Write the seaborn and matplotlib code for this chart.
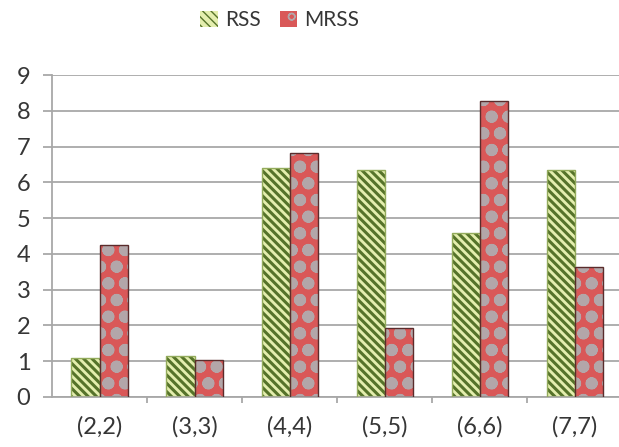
import matplotlib
matplotlib.use("Agg")
import matplotlib.pyplot as plt
import pandas as pd
import seaborn as sns
from matplotlib.patches import Patch, Rectangle
from matplotlib.ticker import FixedLocator

# Estimator values per (m, k) setting
pairs = ["(2,2)", "(3,3)", "(4,4)", "(5,5)", "(6,6)", "(7,7)"]
rss = [1.10, 1.15, 6.40, 6.35, 4.58, 6.35]
mrss = [4.25, 1.03, 6.82, 1.93, 8.27, 3.63]
methods = ["RSS", "MRSS"]
yticks = list(range(0, 10))

df = pd.DataFrame({
    "pair": pairs * 2,
    "method": ["RSS"] * len(pairs) + ["MRSS"] * len(pairs),
    "value": rss + mrss,
})

styles = {
    "RSS": dict(face="#e4eeae", hatch="\\\\\\\\", hcolor="#56732a", edge="#93ab5c", hlw=2.2),
    "MRSS": dict(face="#d95858", hatch="o", hcolor="#b3a6a9", edge="#5a2c2c", hlw=4.0),
}

sns.set_theme(style="white")
plt.rcParams["font.family"] = ["Lato", "DejaVu Sans"]
text_color = "#363636"
grid_color = "#a8a8a8"

fig = plt.figure(figsize=(6.19, 4.47), dpi=100)
ax = fig.add_axes([0.084, 0.112, 0.921, 0.720])

sns.barplot(data=df, x="pair", y="value", hue="method", order=pairs,
            hue_order=methods, palette=[styles[m]["face"] for m in methods],
            width=0.59, gap=0, saturation=1, legend=False, ax=ax)


def style_patch(p, st):
    p.set_facecolor(st["face"])
    p.set_hatch(st["hatch"])
    if hasattr(p, "set_hatchcolor"):
        p.set_hatchcolor(st["hcolor"])
        p.set_edgecolor(st["edge"])
        p.set_linewidth(1.0)
    else:
        p.set_edgecolor(st["hcolor"])
        p.set_linewidth(0)
    if hasattr(p, "set_hatch_linewidth"):
        p.set_hatch_linewidth(st["hlw"])


for method, cont in zip(methods, ax.containers):
    st = styles[method]
    for rect in cont:
        style_patch(rect, st)
        # crisp outline on top of the hatch
        ax.add_patch(Rectangle((rect.get_x(), rect.get_y()), rect.get_width(),
                               rect.get_height(), fill=False,
                               edgecolor=st["edge"], linewidth=1.0, zorder=3))

ax.set_ylim(0, 9)
ax.set_xlim(-0.5, len(pairs) - 0.5)
ax.set_yticks(yticks)
ax.set_xlabel("")
ax.set_ylabel("")
ax.set_axisbelow(True)
ax.yaxis.grid(True, color=grid_color, linewidth=1.3)

for side in ("top", "right"):
    ax.spines[side].set_visible(False)
for side in ("left", "bottom"):
    ax.spines[side].set_color(grid_color)
    ax.spines[side].set_linewidth(1.3)

ax.tick_params(axis="y", which="major", length=6.5, width=1.3, color=grid_color,
               direction="out", pad=9, labelsize=17, labelcolor=text_color, left=True)
ax.tick_params(axis="x", which="major", length=0, pad=14, labelsize=17,
               labelcolor=text_color)
ax.xaxis.set_minor_locator(FixedLocator([i + 0.5 for i in range(len(pairs) - 1)]))
ax.tick_params(axis="x", which="minor", length=4.5, width=1.3, color=grid_color,
               direction="out", bottom=True)

handles = []
for m in methods:
    st = styles[m]
    h = Patch(facecolor=st["face"], hatch=st["hatch"], label=m)
    style_patch(h, st)
    handles.append(h)

fig.legend(handles=handles, labels=methods, loc="center",
           bbox_to_anchor=(0.452, 0.955), ncol=2, frameon=False, fontsize=15,
           handlelength=0.85, handleheight=0.85, handletextpad=0.35,
           columnspacing=0.9, labelcolor=text_color)

fig.savefig("out.png", dpi=100)
